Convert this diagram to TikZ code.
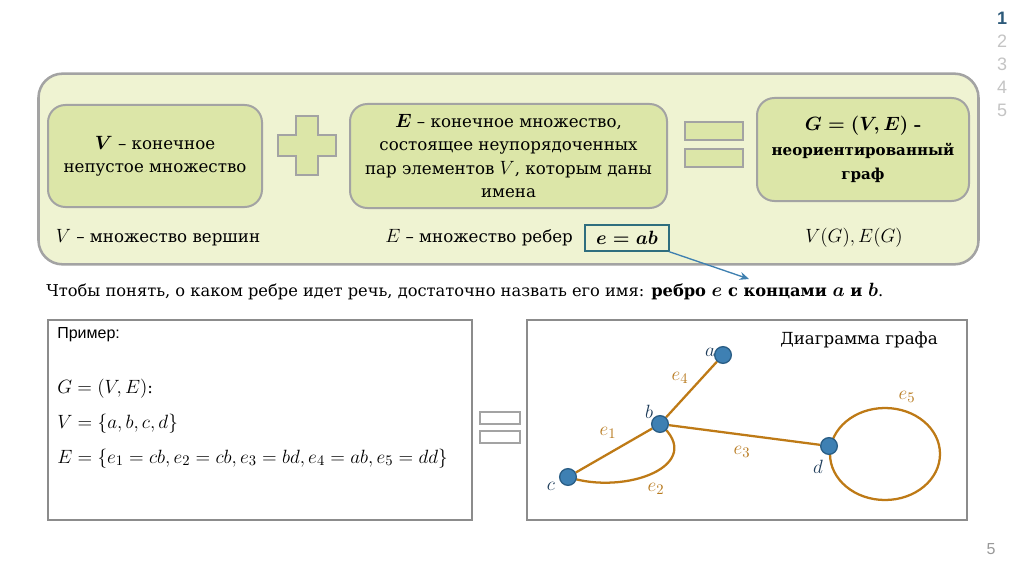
\documentclass[tikz,border=0pt]{standalone}
\usepackage{amsmath}
\usepackage[no-math]{fontspec}
\setmainfont{DejaVu Serif}
\newfontfamily\sansf{Liberation Sans}
\DeclareMathSizes{12.5}{14.8}{10.5}{8.5}
\DeclareMathSizes{12.2}{14.5}{10.2}{8}
\DeclareMathSizes{11.3}{13.6}{9.6}{8}
\usetikzlibrary{backgrounds,arrows.meta}
\definecolor{outerfill}{HTML}{EFF3D2}
\definecolor{boxfill}{HTML}{DCE6A8}
\definecolor{bordergray}{HTML}{A3A3A3}
\definecolor{framegray}{HTML}{8C8C8C}
\definecolor{tealb}{HTML}{2F6E7E}
\definecolor{arrowblue}{HTML}{3F80B0}
\definecolor{nodeblue}{HTML}{3E80B3}
\definecolor{nodeborder}{HTML}{2A5E86}
\definecolor{edgeorange}{HTML}{BE7A16}
\definecolor{labelorange}{HTML}{B87A1E}
\definecolor{navy}{HTML}{1E3C5A}
\definecolor{pagegray}{HTML}{C4C4C4}
\definecolor{pageblue}{HTML}{2D5A7A}
\begin{document}
\begin{tikzpicture}[x=0.75pt,y=-0.75pt,
  outerbox/.style={draw=bordergray, fill=outerfill, line width=1.9pt, rounded corners=18pt, inner sep=0pt},
  greenbox/.style={draw=bordergray, fill=boxfill, line width=1.5pt, rounded corners=13pt, align=center, font=\fontsize{12.5}{17.5}\selectfont, inner sep=0pt},
  signpart/.style={draw=bordergray, fill=boxfill, line width=1.2pt},
  framebox/.style={draw=framegray, line width=1.4pt},
  vert/.style={circle, fill=nodeblue, draw=nodeborder, line width=1pt, minimum size=12.5pt, inner sep=0pt},
  gedge/.style={draw=edgeorange, line width=1.7pt},
  elabel/.style={text=labelorange, font=\fontsize{12.5}{14}\selectfont, inner sep=0pt},
  vlabel/.style={text=navy, font=\fontsize{12.5}{14}\selectfont, inner sep=0pt},
  bodytext/.style={font=\fontsize{12.5}{14}\selectfont, inner sep=0pt},
  pagenum/.style={font=\sansf\fontsize{13.5}{14}\selectfont, text=pagegray, inner sep=0pt}
]
\useasboundingbox (0,0) rectangle (1024,574);
\begin{scope}[on background layer]
\fill[white] (0,0) rectangle (1024,574);
\end{scope}

% page numbers
\node[pagenum, text=pageblue, font=\sansf\bfseries\fontsize{13.5}{14}\selectfont] (p1) at (1002,18) {1};
\node[pagenum] (p2) at (1002,41) {2};
\node[pagenum] (p3) at (1002,64) {3};
\node[pagenum] (p4) at (1002,87) {4};
\node[pagenum] (p5) at (1002,110) {5};
\node[pagenum, text=gray!80, font=\sansf\fontsize{12}{14}\selectfont] (pg) at (991,549) {5};

% outer panel
\node[outerbox, minimum width=705pt, minimum height=143pt] (outer) at (508.5,169) {};

\node[greenbox, minimum width=160.5pt, minimum height=76.5pt] (vbox) at (155,156)
  {$\boldsymbol{V}$ – конечное\\ непустое множество};
\node[greenbox, minimum width=237.75pt, minimum height=78pt] (ebox) at (508.5,156)
  {$\boldsymbol{E}$ – конечное множество,\\ состоящее неупорядоченных\\ пар элементов $V$, которым даны\\ имена};
\node[greenbox, minimum width=159pt, minimum height=77.25pt, font=\bfseries\fontsize{11.3}{18.5}\selectfont] (gbox) at (863,149.5)
  {$\boldsymbol{G=(V,E)}$ –\\ неориентированный\\ граф};

% plus sign
\draw[signpart] (296,116) -- (318,116) -- (318,135) -- (336,135) -- (336,156) -- (318,156)
  -- (318,175) -- (296,175) -- (296,156) -- (278,156) -- (278,135) -- (296,135) -- cycle;
% equals sign
\draw[signpart] (685,122) rectangle (743,140);
\draw[signpart] (685,149) rectangle (743,167);

\node[bodytext] (vdesc) at (158,238) {$V$ – множество вершин};
\node[bodytext, anchor=west] (edesc) at (385,238) {$E$ – множество ребер};
\node[draw=tealb, line width=1.4pt, fill=outerfill, minimum width=63pt, minimum height=19pt, inner sep=0pt,
  font=\fontsize{12.5}{14}\selectfont] (eab) at (627,238) {$\boldsymbol{e=ab}$};
\node[bodytext] (vg) at (854,238) {$V(G),E(G)$};

\coordinate (arrend) at (749,279);
\draw[arrowblue, line width=1pt, -{Stealth[length=7pt,width=6pt]}] (eab.south east) ++(-1,0) -- (arrend);

\node[bodytext, font=\fontsize{12.2}{14}\selectfont, anchor=base west] (sent) at (46,296)
  {Чтобы понять, о каком ребре идет речь, достаточно назвать его имя: \textbf{ребро $\boldsymbol{e}$ с концами $\boldsymbol{a}$ и $\boldsymbol{b}$}.};

% example box
\node[framebox, minimum width=318pt, minimum height=150pt, inner sep=0pt] (ex) at (260,420) {};
\node[anchor=base west, inner sep=0pt, font=\sansf\fontsize{12}{14}\selectfont] (prim) at (57,338) {Пример:};
\node[bodytext, anchor=base west] (l1) at (57,393) {$G=(V,E)$:};
\node[bodytext, anchor=base west] (l2) at (57,428) {$V=\{a,b,c,d\}$};
\node[bodytext, anchor=base west] (l3) at (57,463) {$E=\{e_1=cb,e_2=cb,e_3=bd,e_4=ab,e_5=dd\}$};

% small equals
\draw[draw=bordergray, line width=1.1pt] (480,412) rectangle (520,424);
\draw[draw=bordergray, line width=1.1pt] (480,431) rectangle (520,443);

% graph box
\node[framebox, minimum width=330.5pt, minimum height=150pt, inner sep=0pt] (gr) at (747,420) {};
\node[bodytext, anchor=east] (gtitle) at (938,340) {Диаграмма графа};

\node[vert] (a) at (723,355) {};
\node[vert] (b) at (660,424) {};
\node[vert] (c) at (568,477) {};
\node[vert] (d) at (829,446) {};
\coordinate (loopc) at (885,454);

\begin{scope}[on background layer]
\draw[gedge] (b) -- (a);
\draw[gedge] (c) -- (b);
\draw[gedge] (c.center) .. controls (625,496) and (708,465) .. (b.center);
\draw[gedge] (b) -- (d);
\draw[gedge] (loopc) ellipse [x radius=55, y radius=46];
\end{scope}

\node[vlabel] (la) at (710,352) {$a$};
\node[vlabel] (lb) at (649,412) {$b$};
\node[vlabel] (lc) at (551,486) {$c$};
\node[vlabel] (ld) at (818,467) {$d$};

\node[elabel] (e4) at (680,378) {$e_4$};
\node[elabel] (e1) at (608,433) {$e_1$};
\node[elabel] (e2) at (656,489) {$e_2$};
\node[elabel] (e3) at (742,452) {$e_3$};
\node[elabel] (e5) at (907,397) {$e_5$};
\end{tikzpicture}
\end{document}
